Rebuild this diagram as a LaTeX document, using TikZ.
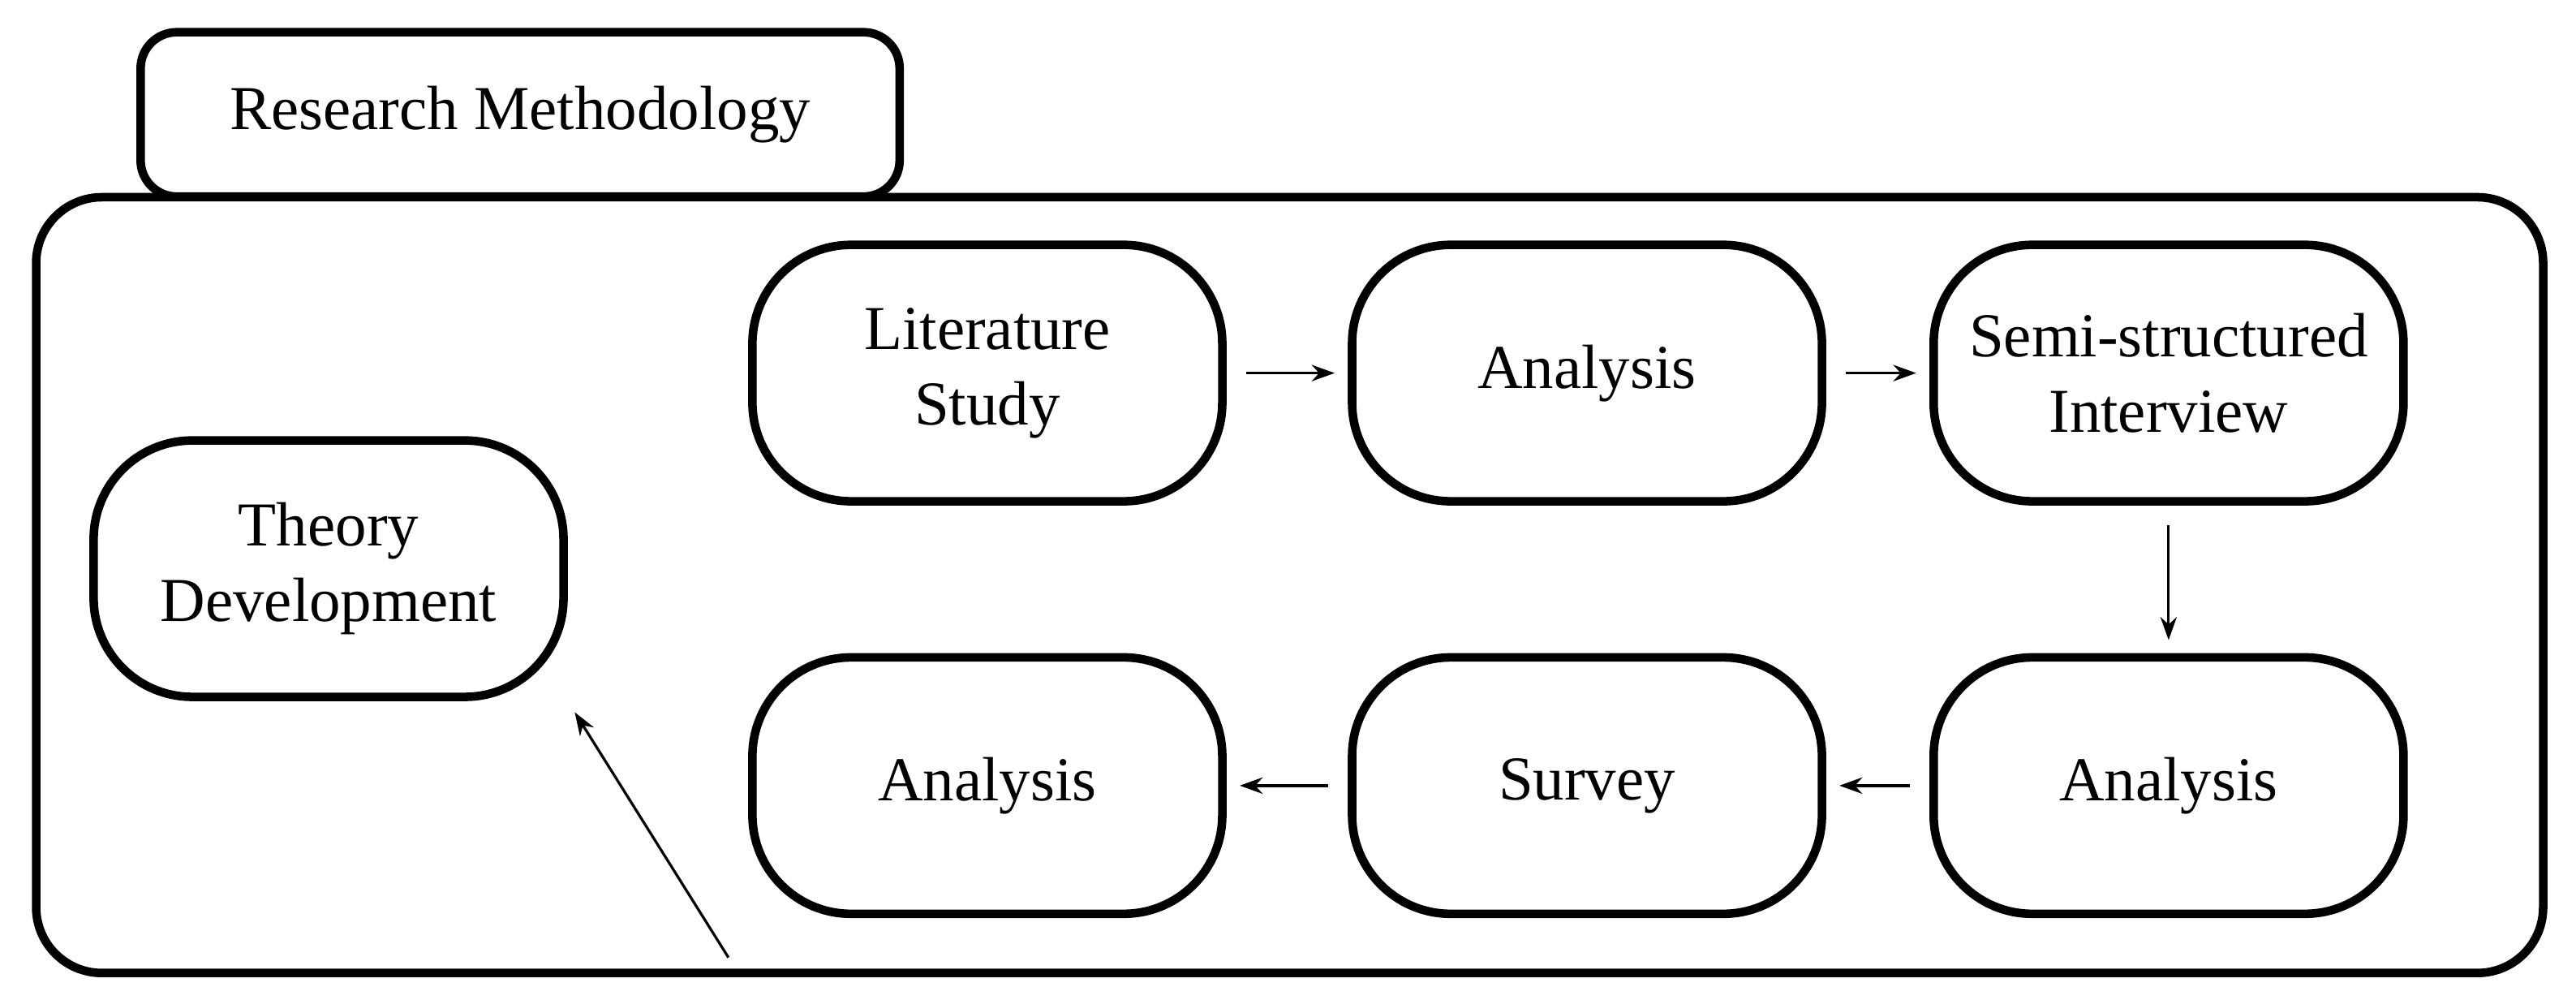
\documentclass[tikz,border=0pt]{standalone}
\usepackage{fontspec}
\setmainfont{Liberation Serif}
\usetikzlibrary{arrows.meta}
\begin{document}
\begin{tikzpicture}[x=0.5pt,y=-0.5pt,
 box/.style={draw,line width=2.6pt,rounded corners=30pt,minimum width=143pt,minimum height=78pt,align=center,font=\fontsize{19}{23}\selectfont,inner sep=0pt},
 arr/.style={-{Stealth[length=7pt,width=5pt]},line width=0.8pt,shorten <=6pt,shorten >=4pt}]
\useasboundingbox (0,0) rectangle (1568,608);
\draw[line width=2.6pt,rounded corners=20pt] (22,120) rectangle (1548,592);
\node[draw,line width=2.6pt,rounded corners=11pt,minimum width=231pt,minimum height=50pt,anchor=north west,inner sep=0pt,font=\fontsize{19}{23}\selectfont,fill=white] (tab) at (83,17) {Research Methodology};
\node[box] (lit) at (601,227) {Literature\\Study};
\node[box] (an1) at (966,227) {Analysis};
\node[box] (semi) at (1320,227) {Semi-structured\\Interview};
\node[box] (an2) at (1320,478) {Analysis};
\node[box] (sur) at (966,478) {Survey};
\node[box] (an3) at (601,478) {Analysis};
\node[box] (thy) at (200,346) {Theory\\Development};
\draw[arr] (lit.east) -- (an1.west);
\draw[arr] (an1.east) -- (semi.west);
\draw[arr] (semi.south) -- (an2.north);
\draw[arr] (an2.west) -- (sur.west -| sur.east);
\draw[arr] (sur.west) -- (an3.east);
\draw[arr,shorten <=0pt] (an3.south west) ++(-6pt,-12pt) coordinate (s) (s) -- (thy.south east);
\end{tikzpicture}
\end{document}
